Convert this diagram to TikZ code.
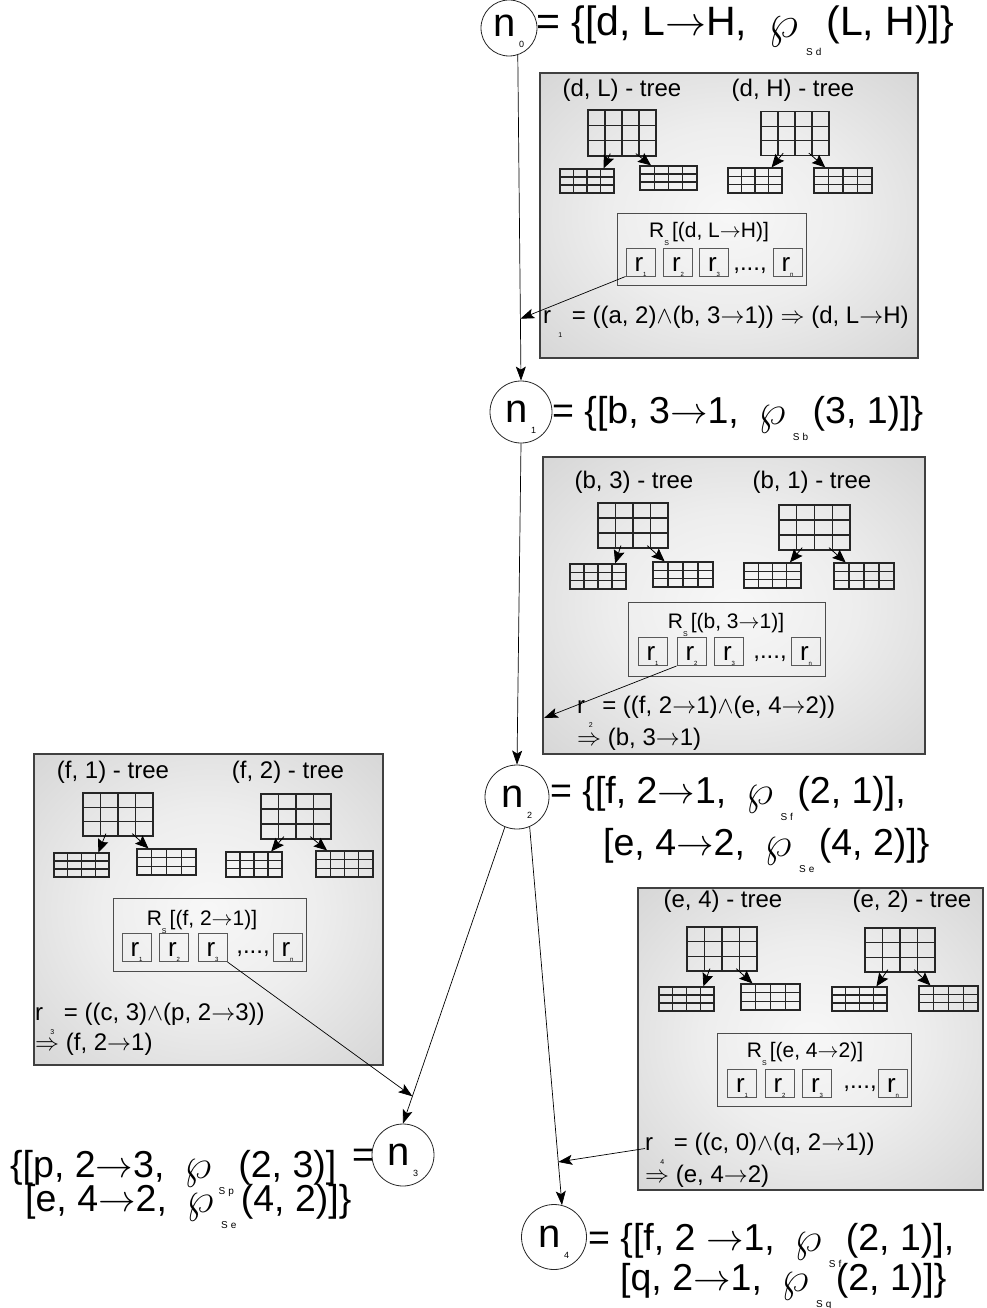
\RequirePackage{fix-cm}
\documentclass[tikz,border=0pt]{standalone}
\usepackage{graphicx}
\usepackage{fontspec}
\setmainfont{Liberation Sans}
\usetikzlibrary{arrows.meta,calc}

% lowered small text (subscripts drawn as in the figure)
\newcommand\dn[3]{\raisebox{#1}{\fontsize{#2}{#2}\selectfont #3}}
\newcommand\rarr{$\rightarrow$}
\newcommand\wpsub[1]{\hspace{0.25em}\raisebox{-0.03em}{\scalebox{1.15}{$\wp$}}\hspace{0.2em}\dn{-0.47em}{10}{S\hspace{0.3em}#1}\hspace{0.12em}}
% a 4x3 table node and the two links of a tree
\newcommand\tg[4]{\node[tgrid, minimum width=#3pt, minimum height=#4pt] (#1) at (#2) {};}
\newcommand\tlinks[3]{%
  \draw[tarr] ($(#1.south west)!0.33!(#1.south east)+(0,-3)$) -- ($(#2.north west)!0.8!(#2.north east)$);
  \draw[tarr] ($(#1.south west)!0.7!(#1.south east)+(0,-3)$) -- ($(#3.north west)!0.2!(#3.north east)$);}

% soft light centre fading to grey at the rim
\pgfdeclareradialshading{panelglow}{\pgfpoint{0bp}{0bp}}{%
  color(0bp)=(white!97!black); color(16bp)=(white!93!black);
  color(38bp)=(black!17); color(50bp)=(black!25); color(60bp)=(black!28)}

\tikzset{
  bigtxt/.style={font=\fontsize{37.5}{44}\selectfont, inner sep=0pt, anchor=base west},
  treetxt/.style={font=\fontsize{24}{28}\selectfont, inner sep=0pt, anchor=base},
  rtitle/.style={font=\fontsize{21}{25}\selectfont, inner sep=0pt, anchor=base},
  dotstxt/.style={font=\fontsize{24}{28}\selectfont, inner sep=0pt, anchor=base},
  formtxt/.style={font=\fontsize{24}{28}\selectfont, inner sep=0pt, anchor=base west},
  nstate/.style={circle, draw=black!85, line width=0.8pt, inner sep=0pt,
    text height=21pt, text depth=0pt, font=\fontsize{40}{40}\selectfont},
  panel/.style={draw=black!75, line width=1.3pt, shading=panelglow, inner sep=0pt},
  rset/.style={draw=black!70, line width=1pt, inner sep=0pt},
  rbox/.style={draw=black!65, line width=1pt, inner sep=0pt, minimum width=29pt, minimum height=28pt,
    text height=20pt, text depth=2pt, font=\fontsize{26}{26}\selectfont},
  tgrid/.style={draw=black!85, line width=1.2pt, inner sep=0pt, path picture={
    \foreach \k in {1,2,3}{\draw[black!85, line width=1.2pt]
      ($(path picture bounding box.north west)!\k/4!(path picture bounding box.north east)$) --
      ($(path picture bounding box.south west)!\k/4!(path picture bounding box.south east)$);}
    \foreach \k in {1,2}{\draw[black!85, line width=1.2pt]
      ($(path picture bounding box.north west)!\k/3!(path picture bounding box.south west)$) --
      ($(path picture bounding box.north east)!\k/3!(path picture bounding box.south east)$);}}},
  flow/.style={-{Stealth[length=14pt,width=10pt,inset=3pt]}, line width=0.7pt},
  tarr/.style={-{Stealth[length=13pt,width=11pt,inset=2pt]}, line width=0.8pt},
}

\begin{document}
\begin{tikzpicture}[x=1pt,y=-1pt]
\useasboundingbox (0,0) rectangle (986,1308);

% ---------- panel of n0 ----------
\node[panel, minimum width=378pt, minimum height=285pt] (b1) at (729,215.5) {};
\node[treetxt] (b1lab1) at (622,97) {(d, L) - tree};
\node[treetxt] (b1lab2) at (793,97) {(d, H) - tree};
\tg{b1a}{622,133}{68}{46}
\tg{b1al}{587,181}{54}{24}
\tg{b1ar}{668.5,178}{57}{24}
\tg{b1b}{795,133.5}{68}{44}
\tg{b1bl}{755,180.5}{54}{25}
\tg{b1br}{843,180.5}{58}{25}
\tlinks{b1a}{b1al}{b1ar}
\tlinks{b1b}{b1bl}{b1br}
\node[rset, minimum width=189pt, minimum height=72pt] (b1s) at (711.5,249) {};
\node[rtitle] (b1t) at (709,237) {R\dn{-0.4em}{7}{S}\hspace{0.15em}[(d, L\rarr H)]};
\node[rbox] (b1r1) at (640.5,262) {r\dn{-0.2em}{6}{1}};
\node[rbox] (b1r2) at (678,262) {r\dn{-0.2em}{6}{2}};
\node[rbox] (b1r3) at (714,262) {r\dn{-0.2em}{6}{3}};
\node[rbox] (b1rn) at (787.5,262) {r\dn{-0.2em}{6}{n}};
\node[dotstxt] (b1d) at (750,270) {,...,};
\node[formtxt] (b1f) at (543,323) {r\hspace{0.3em}\dn{-0.6em}{7}{1}\hspace{0.4em}= ((a, 2)$\wedge$(b, 3\rarr1)) $\Rightarrow$ (d, L\rarr H)};

% ---------- panel of n1 ----------
\node[panel, minimum width=382pt, minimum height=297pt] (b2) at (734,605.5) {};
\node[treetxt] (b2lab1) at (634,488) {(b, 3) - tree};
\node[treetxt] (b2lab2) at (812,488) {(b, 1) - tree};
\tg{b2a}{633,525.5}{70}{45}
\tg{b2al}{598,576.5}{56}{25}
\tg{b2ar}{683,574.5}{60}{25}
\tg{b2b}{814.5,527.5}{71}{45}
\tg{b2bl}{772.5,575.5}{57}{25}
\tg{b2br}{864,576}{60}{26}
\tlinks{b2a}{b2al}{b2ar}
\tlinks{b2b}{b2bl}{b2br}
\node[rset, minimum width=197pt, minimum height=74pt] (b2s) at (726.5,639) {};
\node[rtitle] (b2t) at (726,628) {R\dn{-0.4em}{7}{S}\hspace{0.15em}[(b, 3\rarr1)]};
\node[rbox] (b2r1) at (652.5,651.5) {r\dn{-0.2em}{6}{1}};
\node[rbox] (b2r2) at (691.5,651.5) {r\dn{-0.2em}{6}{2}};
\node[rbox] (b2r3) at (729,651.5) {r\dn{-0.2em}{6}{3}};
\node[rbox] (b2rn) at (806,651.5) {r\dn{-0.2em}{6}{n}};
\node[dotstxt] (b2d) at (770,658) {,...,};
\node[formtxt] (b2f) at (577,713) {r\hspace{0.15em}\dn{-0.6em}{7}{2}\hspace{0.4em}= ((f, 2\rarr1)$\wedge$(e, 4\rarr2))};
\node[formtxt] (b2g) at (577,745) {$\Rightarrow$ (b, 3\rarr1)};

% ---------- panel of n2, feature f ----------
\node[panel, minimum width=349pt, minimum height=311pt] (b3) at (208.5,909.5) {};
\node[treetxt] (b3lab1) at (113,778) {(f, 1) - tree};
\node[treetxt] (b3lab2) at (288,778) {(f, 2) - tree};
\tg{b3a}{118,814.5}{70}{43}
\tg{b3al}{81.5,865}{55}{24}
\tg{b3ar}{166.5,862}{59}{26}
\tg{b3b}{296,816.5}{70}{45}
\tg{b3bl}{254,864.5}{56}{25}
\tg{b3br}{344.5,864}{57}{26}
\tlinks{b3a}{b3al}{b3ar}
\tlinks{b3b}{b3bl}{b3br}
\node[rset, minimum width=193pt, minimum height=73pt] (b3s) at (209.5,934.5) {};
\node[rtitle] (b3t) at (202,925) {R\dn{-0.4em}{7}{S}\hspace{0.15em}[(f, 2\rarr1)]};
\node[rbox] (b3r1) at (136.5,947.5) {r\dn{-0.2em}{6}{1}};
\node[rbox] (b3r2) at (174,947.5) {r\dn{-0.2em}{6}{2}};
\node[rbox] (b3r3) at (212.5,947.5) {r\dn{-0.2em}{6}{3}};
\node[rbox] (b3rn) at (287.5,947.5) {r\dn{-0.2em}{6}{n}};
\node[dotstxt] (b3d) at (253,953) {,...,};
\node[formtxt] (b3f) at (35,1020) {r\hspace{0.3em}\dn{-0.6em}{7}{3}\hspace{0.4em}= ((c, 3)$\wedge$(p, 2\rarr3))};
\node[formtxt] (b3g) at (35,1050) {$\Rightarrow$ (f, 2\rarr1)};

% ---------- panel of n2, feature e ----------
\node[panel, minimum width=345pt, minimum height=302pt] (b4) at (810.5,1039) {};
\node[treetxt] (b4lab1) at (723,907) {(e, 4) - tree};
\node[treetxt] (b4lab2) at (912,907) {(e, 2) - tree};
\tg{b4a}{722,949}{70}{44}
\tg{b4al}{686.5,999}{55}{24}
\tg{b4ar}{770.5,997}{59}{26}
\tg{b4b}{900,950}{70}{44}
\tg{b4bl}{859.5,999}{55}{24}
\tg{b4br}{948.5,998.5}{59}{25}
\tlinks{b4a}{b4al}{b4ar}
\tlinks{b4b}{b4bl}{b4br}
\node[rset, minimum width=194pt, minimum height=73pt] (b4s) at (814,1069.5) {};
\node[rtitle] (b4t) at (805,1057) {R\dn{-0.4em}{7}{S}\hspace{0.15em}[(e, 4\rarr2)]};
\node[rbox] (b4r1) at (742,1083) {r\dn{-0.2em}{6}{1}};
\node[rbox] (b4r2) at (779.5,1083) {r\dn{-0.2em}{6}{2}};
\node[rbox] (b4r3) at (817,1083) {r\dn{-0.2em}{6}{3}};
\node[rbox] (b4rn) at (893,1083) {r\dn{-0.2em}{6}{n}};
\node[dotstxt] (b4d) at (860,1088) {,...,};
\node[formtxt] (b4f) at (645,1150) {r\hspace{0.3em}\dn{-0.6em}{7}{4}\hspace{0.4em}= ((c, 0)$\wedge$(q, 2\rarr1))};
\node[formtxt] (b4g) at (645,1182) {$\Rightarrow$ (e, 4\rarr2)};

% ---------- search nodes ----------
\node[nstate, minimum size=56pt, text height=17pt] (n0) at (509,28) {n\hspace{0.08em}\dn{-0.27em}{9}{0}};
\node[nstate, minimum size=62pt] (n1) at (521,412) {n\hspace{0.08em}\dn{-0.27em}{9}{1}};
\node[nstate, minimum size=64pt] (n2) at (517,797) {n\hspace{0.08em}\dn{-0.27em}{9}{2}};
\node[nstate, minimum size=62pt] (n3) at (403,1155) {n\hspace{0.08em}\dn{-0.27em}{9}{3}};
\node[nstate, minimum size=65pt] (n4) at (554,1237) {n\hspace{0.08em}\dn{-0.27em}{9}{4}};

\node[bigtxt, font=\fontsize{41}{48}\selectfont] (n0f) at (536,36) {= \{[d, L\rarr H,\ \wpsub{d}(L, H)]\}};
\node[bigtxt] (n1f) at (552,423) {= \{[b, 3\rarr1,\ \wpsub{b}(3, 1)]\}};
\node[bigtxt] (n2f) at (550,803) {= \{[f, 2\rarr1,\ \wpsub{f}(2, 1)],};
\node[bigtxt] (n2g) at (603,855) {[e, 4\rarr2,\ \wpsub{e}(4, 2)]\}};
\node[bigtxt] (n3f) at (10,1177) {\{[p, 2\rarr3,\ \wpsub{p}(2, 3)]};
\node[bigtxt] (n3g) at (25,1211) {[e, 4\rarr2,\ \wpsub{e}(4, 2)]\}};
\node[bigtxt] (n3e) at (352,1167) {=};
\node[bigtxt] (n4f) at (588,1250) {= \{[f, 2 \rarr1,\ \wpsub{f}(2, 1)],};
\node[bigtxt] (n4g) at (620,1290) {[q, 2\rarr1,\ \wpsub{q}(2, 1)]\}};

% ---------- search edges ----------
\draw[flow] (n0.288) -- (n1.north);
\draw[flow] (n1.south) -- (n2.north);
\draw[flow] (n2.248) -- (n3.north);
\draw[flow] (n2.293) -- (n4.76);
\path (n0.288) -- (n1.north) coordinate[pos=0.81] (c1);
\path (n2.248) -- (n3.north) coordinate[pos=0.908] (c3);
\path (n2.293) -- (n4.76) coordinate[pos=0.886] (c4);
\coordinate (c2) at (544,718);

% rule links
\draw[flow] (b1r1.south west) -- (c1);
\draw[flow] (b2r2.south west) -- (c2);
\draw[flow] (b3r3.south east) -- (c3);
\draw[flow] (b4f.west) -- (c4);
\end{tikzpicture}
\end{document}
